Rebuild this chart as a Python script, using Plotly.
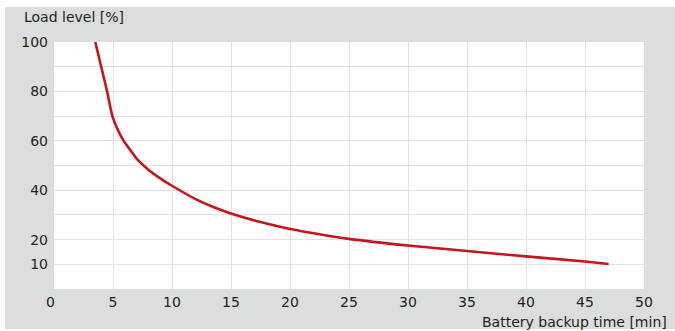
import plotly.graph_objects as go

# battery backup time [min] vs load level [%]
backup_time = [3.5, 4.0, 4.5, 4.95, 5.5, 5.9, 6.5, 7.0, 8.0, 9.0, 10.0, 12.0, 13.5,
               15.0, 17.5, 20.0, 22.5, 25.0, 30.0, 35.0, 40.0, 45.0, 47.0]
load_level = [100, 90, 80, 70, 63.5, 60, 56, 52.8, 48.3, 44.8, 41.8, 36.4, 33.2,
              30.6, 27.1, 24.3, 22.2, 20.3, 17.6, 15.4, 13.2, 11.1, 10.1]

x_ticks = [0, 5, 10, 15, 20, 25, 30, 35, 40, 45, 50]
x_labels = ["0\u2002", "5", "10", "15", "20", "25", "30", "35", "40", "45", "50"]
y_grid = [10, 20, 30, 40, 50, 60, 70, 80, 90, 100]
y_labels = ["10", "20", "", "40", "", "60", "", "80", "", "100"]

font = "DejaVu Sans, sans-serif"
text_col = "#231f20"
grid_col = "#e1e1e1"

fig = go.Figure()
fig.add_trace(go.Scatter(
    x=backup_time, y=load_level, mode="lines",
    line=dict(color="#c4161c", width=2.6, shape="spline", smoothing=0.6),
    hoverinfo="skip", showlegend=False,
))

# grey panel behind the whole chart, white plot area on top of it
fig.add_shape(type="rect", xref="paper", yref="paper",
              x0=-0.083, x1=1.053, y0=-0.162, y1=1.142,
              fillcolor="#dcdddd", line_width=0, layer="below")
fig.add_shape(type="rect", xref="paper", yref="paper",
              x0=0, x1=1, y0=0, y1=1,
              fillcolor="white", line_width=0, layer="below")

fig.add_annotation(text="Load level [%]", xref="paper", yref="paper",
                   x=-0.054, y=1.10, xanchor="left", yanchor="middle",
                   showarrow=False, font=dict(size=14, color=text_col, family=font))
fig.add_annotation(text="Battery backup time [min]", xref="paper", yref="paper",
                   x=1.042, y=-0.134, xanchor="right", yanchor="middle",
                   showarrow=False, font=dict(size=14, color=text_col, family=font))

fig.update_xaxes(range=[0, 50], tickvals=x_ticks, ticktext=x_labels, showgrid=True,
                 gridcolor=grid_col, gridwidth=1, zeroline=False, showline=False, ticks="",
                 tickfont=dict(size=14, color=text_col, family=font), ticklabelstandoff=3)
fig.update_yaxes(range=[0, 100], tickvals=y_grid, ticktext=y_labels, showgrid=True,
                 gridcolor=grid_col, gridwidth=1, zeroline=False, showline=False, ticks="",
                 tickfont=dict(size=14, color=text_col, family=font), ticklabelstandoff=5)

fig.update_layout(
    width=675, height=331,
    margin=dict(l=54, r=31, t=42, b=42),
    paper_bgcolor="white", plot_bgcolor="white",
)

# page body has a default 8px margin; drop it so the figure fills the window
fig.write_html("out.html", config={"displayModeBar": False},
               post_script="document.body.style.margin = '0';")
